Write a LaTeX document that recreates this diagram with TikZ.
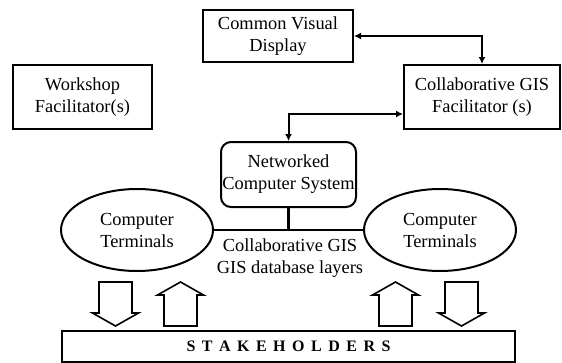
\documentclass[tikz,border=0pt]{standalone}
\usepackage{fontspec}
\setmainfont{Liberation Serif}
\usetikzlibrary{shapes.geometric,arrows.meta}
\tikzset{
  box/.style={draw,line width=2pt,inner sep=0pt,align=center},
  term/.style={draw,ellipse,line width=2pt,minimum width=152pt,minimum height=82pt,inner sep=0pt,align=center},
  link/.style={line width=2pt,{Latex[length=7pt,width=7pt]}-{Latex[length=7pt,width=7pt]}},
  bus/.style={line width=2.4pt},
  hollow/.style={line width=1.6pt,line join=miter}
}
% hollow block arrows: shaft left x, top y (down) / bottom y (up)
\newcommand{\arrdown}[2]{\draw[hollow] (#1,#2) -- ++(33,0) -- ++(0,31) -- ++(6.5,0) -- ++(-23,13) -- ++(-23,-13) -- ++(6.5,0) -- cycle;}
\newcommand{\arrup}[2]{\draw[hollow] (#1,#2) -- ++(0,-31) -- ++(-6.5,0) -- ++(23,-13) -- ++(23,13) -- ++(-6.5,0) -- ++(0,31) -- cycle;}
\begin{document}
\begin{tikzpicture}[x=1pt,y=-1pt,font=\fontsize{18.4}{22}\selectfont]
\useasboundingbox (0,0) rectangle (562,362);
% boxes
\node[box,minimum width=150pt,minimum height=52pt] (cvd) at (278,36) {Common Visual\\Display};
\node[box,minimum width=139pt,minimum height=64pt] (shop) at (82.5,97) {Workshop\\Facilitator(s)};
\node[box,minimum width=156pt,minimum height=64pt] (cgf) at (482,97) {Collaborative GIS\\Facilitator (s)};
\node[box,rounded corners=10pt,minimum width=135pt,minimum height=65pt] (ncs) at (288.5,174.5) {Networked\\Computer System};
\node[term] (lt) at (137,230) {Computer\\Terminals};
\node[term] (rt) at (440,230) {Computer\\Terminals};
\node[align=center] (layers) at (290,258) {Collaborative GIS\\GIS database layers};
\node[draw,line width=2pt,minimum width=453pt,minimum height=31pt,inner sep=0pt,font=\fontsize{16}{18}\selectfont\bfseries] (stake) at (288.5,346.5) {\spaceskip=6.5pt S T A K E H O L D E R S};
% connectors
\draw[link] (cvd.east) -| (cgf.north);
\draw[link] (ncs.north) |- ([yshift=-17pt]cgf.west);
\draw[bus] (lt.east) -- (rt.west);
\draw[bus] (ncs.south) -- (ncs.south |- lt.east);
% block arrows
\arrdown{99}{282}
\arrup{164}{326}
\arrup{379}{326}
\arrdown{445}{282}
\end{tikzpicture}
\end{document}
